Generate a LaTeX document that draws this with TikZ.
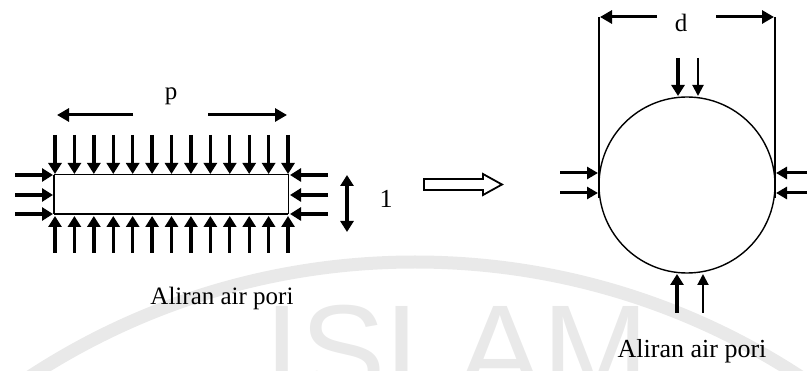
\documentclass[tikz,border=0pt]{standalone}
\usepackage{fontspec}
\setmainfont{Liberation Serif}
\newfontfamily\wmfont{Liberation Sans}
\usetikzlibrary{arrows.meta}
\tikzset{
  bigarr/.style={line width=3.4pt,-{Triangle[length=11pt,width=13pt]}},
  medarr/.style={line width=3pt,-{Triangle[length=11pt,width=12pt]}},
  thinarr/.style={line width=2pt,-{Triangle[length=11pt,width=11pt]}},
  dimarr/.style={line width=3pt,-{Triangle[length=12pt,width=13pt]}},
  lbl/.style={inner sep=0pt,anchor=base,font=\fontsize{25}{28}\selectfont},
  wm/.style={gray!17}
}
\begin{document}
\begin{tikzpicture}[x=1pt,y=-1pt]
\useasboundingbox (0,0) rectangle (807,371);
\begin{scope}
\clip (0,0) rectangle (807,371);
% watermark
\draw[wm,line width=13pt] (415,966) circle[radius=704pt];
\node[wm,inner sep=0pt,anchor=base,font=\wmfont\fontsize{128}{130}\selectfont] (wmtext) at (457,395) {ISLAM};
\end{scope}

% ---------- left figure ----------
\draw[line width=1pt] (54,175) -- (288,175) -- (288,214);
\draw[line width=1.2pt] (54,175) -- (54,214);
\draw[line width=2.4pt] (54,214) -- (288,214);

\foreach \i in {0,...,12} {
  \pgfmathsetmacro{\xx}{55+\i*19.42}
  \draw[bigarr] (\xx,135) -- (\xx,174);
  \draw[bigarr] (\xx,253) -- (\xx,216);
}
\foreach \yy in {175,195,214} {
  \draw[bigarr] (15,\yy) -- (53,\yy);
  \draw[bigarr] (328,\yy) -- (290,\yy);
}
% p dimension
\node[lbl] (p) at (171,100) {p};
\coordinate (pl0) at (133,115); \coordinate (pl1) at (57,115);
\coordinate (pr0) at (208,115); \coordinate (pr1) at (287,115);
\draw[dimarr] (pl0) -- (pl1);
\draw[dimarr] (pr0) -- (pr1);
% l dimension
\coordinate (la) at (347,175); \coordinate (lb) at (347,232);
\draw[line width=3.4pt,{Triangle[length=11pt,width=13pt]}-{Triangle[length=11pt,width=13pt]}] (la) -- (lb);
\node[lbl,font=\fontsize{26}{30}\selectfont] (one) at (386,208) {1};
\node[lbl,font=\fontsize{25}{30}\selectfont] (t1) at (222,305) {Aliran air pori};

% hollow arrow
\draw[line width=1.8pt,line join=miter] (424,179) -- (483,179) -- (483,174) -- (502,184.5) -- (483,195) -- (483,190) -- (424,190) -- cycle;

% ---------- right figure ----------
\coordinate (cc) at (687,185);
\draw[line width=1.4pt] (cc) circle[radius=88pt];
\draw[line width=1.3pt] (599,17) -- (599,198);
\draw[line width=1.3pt] (775,17) -- (775,198);
\draw[dimarr] (657,17) -- (600,17);
\draw[dimarr] (716,17) -- (774,17);
\node[lbl] (d) at (681,32) {d};

\draw[bigarr] (678,58) -- (678,96);
\draw[thinarr] (698,58) -- (698,96);
\draw[bigarr] (677,313) -- (677,274);
\draw[thinarr] (703,313) -- (703,274);
\foreach \yy in {173,193} {
  \draw[medarr] (560,\yy) -- (598,\yy);
  \draw[medarr] (815,\yy) -- (776,\yy);
}
\node[lbl,font=\fontsize{26}{30}\selectfont] (t2) at (692,358) {Aliran air pori};
\end{tikzpicture}
\end{document}
